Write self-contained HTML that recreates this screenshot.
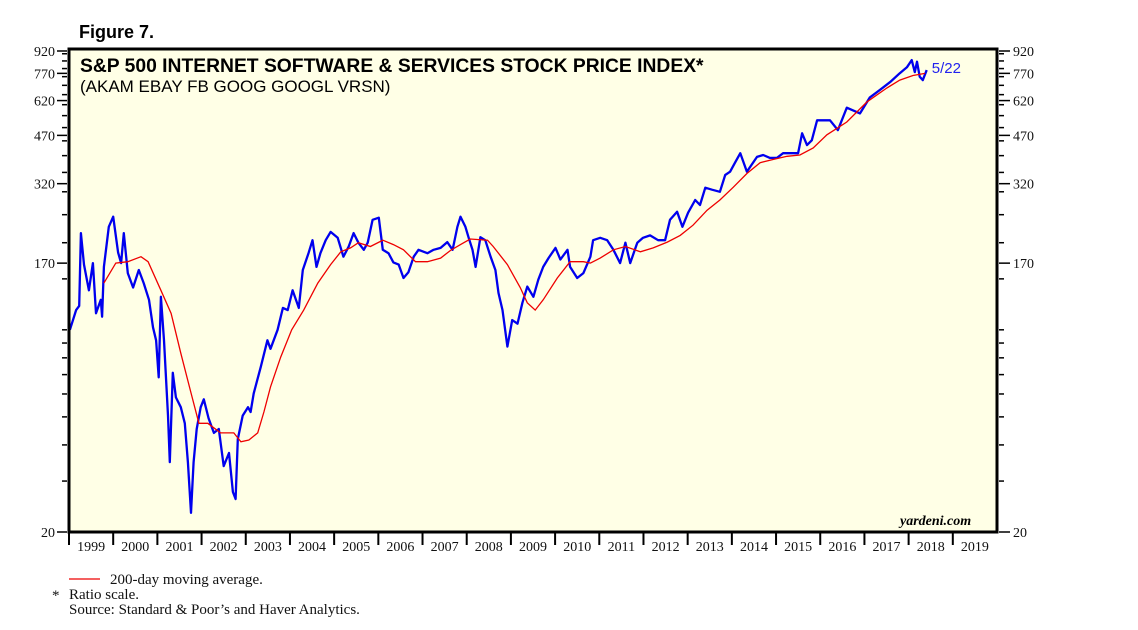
<!DOCTYPE html>
<html><head><meta charset="utf-8"><style>
body{margin:0;background:#fff}
svg{display:block}
.ax{font-family:"Liberation Serif",serif;font-size:14px;fill:#111}
.fn{font-family:"Liberation Serif",serif;font-size:15px;fill:#111}
</style></head><body>
<svg id="c" width="1138" height="630" xmlns="http://www.w3.org/2000/svg">
<text x="79" y="38" font-family="Liberation Sans,sans-serif" font-weight="bold" font-size="18">Figure 7.</text>
<rect x="69" y="49" width="928" height="483" fill="#ffffe6"/>
<g id="marks"></g>
<rect x="69" y="49" width="928" height="483" fill="none" stroke="#000" stroke-width="3"/>
<text x="80" y="72" font-family="Liberation Sans,sans-serif" font-weight="bold" font-size="19.3">S&amp;P 500 INTERNET SOFTWARE &amp; SERVICES STOCK PRICE INDEX*</text>
<text x="80" y="92" font-family="Liberation Sans,sans-serif" font-size="17">(AKAM EBAY FB GOOG GOOGL VRSN)</text>
<text x="900" y="525" font-family="Liberation Serif,serif" font-style="italic" font-weight="bold" font-size="14">yardeni.com</text>
<line x1="69" y1="579" x2="100" y2="579" stroke="#e00" stroke-width="1.2"/>
<text x="110" y="584" class="fn">200-day moving average.</text>
<text x="52" y="600" class="fn">*</text>
<text x="69" y="599" class="fn">Ratio scale.</text>
<text x="69" y="614" class="fn">Source: Standard &amp; Poor’s and Haver Analytics.</text>
</svg>
<script>
const priceT=[1999.02,1999.16,1999.23,1999.27,1999.34,1999.45,1999.54,1999.61,1999.72,1999.75,1999.79,1999.90,2000.0,2000.11,2000.18,2000.24,2000.33,2000.45,2000.58,2000.69,2000.81,2000.90,2000.97,2001.03,2001.08,2001.15,2001.24,2001.28,2001.35,2001.42,2001.53,2001.62,2001.69,2001.76,2001.82,2001.89,2001.98,2002.05,2002.16,2002.28,2002.39,2002.50,2002.62,2002.71,2002.77,2002.82,2002.93,2003.05,2003.11,2003.18,2003.34,2003.49,2003.56,2003.72,2003.84,2003.95,2004.06,2004.20,2004.29,2004.42,2004.51,2004.60,2004.69,2004.81,2004.92,2005.08,2005.21,2005.33,2005.44,2005.55,2005.67,2005.76,2005.87,2006.01,2006.10,2006.23,2006.34,2006.46,2006.57,2006.68,2006.80,2006.91,2007.11,2007.25,2007.41,2007.56,2007.68,2007.79,2007.86,2007.97,2008.04,2008.13,2008.20,2008.31,2008.42,2008.54,2008.65,2008.72,2008.81,2008.92,2009.03,2009.15,2009.26,2009.37,2009.51,2009.62,2009.73,2009.85,2010.01,2010.12,2010.28,2010.34,2010.50,2010.64,2010.80,2010.86,2011.02,2011.18,2011.32,2011.47,2011.59,2011.70,2011.86,2011.99,2012.15,2012.33,2012.49,2012.60,2012.76,2012.88,2013.01,2013.17,2013.28,2013.40,2013.55,2013.73,2013.85,2013.96,2014.07,2014.19,2014.34,2014.41,2014.57,2014.71,2014.86,2015.02,2015.16,2015.38,2015.50,2015.59,2015.70,2015.81,2015.93,2016.22,2016.40,2016.60,2016.90,2017.12,2017.35,2017.58,2017.80,2017.96,2018.07,2018.14,2018.19,2018.25,2018.32,2018.41];
const priceV=[100,117,121,216,168,137,170,114,127,111,165,227,246,185,170,216,157,140,161,145,127,102,92,68.5,130,92,50.5,34.9,71,58.4,54,47.5,34.9,23.3,34.9,45.4,54,57.5,49.4,44,45.4,33.8,37.5,27.5,26,41.9,50.5,54,52,60.3,74.5,92,86,100,119,117,137,119,161,184,204,165,184,204,218,208,179,194,216,200,189,200,240,244,189,184,171,168,151,158,179,189,184,189,192,201,189,227,246,227,209,189,165,209,204,179,161,134,117,87.5,108,105,124,141,130,149,165,177,192,175,189,165,151,157,179,204,208,204,189,170,200,170,200,208,212,204,204,240,256,227,254,281,270,310,305,300,343,352,378,408,352,365,396,402,393,393,408,408,408,478,435,452,530,530,490,586,560,635,675,718,771,808,856,778,845,750,730,790];
const maT=[1999.79,2000.06,2000.33,2000.63,2000.79,2001.08,2001.31,2001.53,2001.76,2001.94,2002.14,2002.43,2002.73,2002.89,2003.07,2003.27,2003.41,2003.56,2003.79,2004.04,2004.31,2004.63,2004.92,2005.15,2005.37,2005.55,2005.82,2006.10,2006.34,2006.57,2006.84,2007.11,2007.41,2007.63,2007.86,2008.08,2008.47,2008.60,2008.92,2009.21,2009.37,2009.55,2009.73,2010.05,2010.34,2010.64,2010.80,2011.02,2011.32,2011.59,2011.93,2012.22,2012.54,2012.83,2013.12,2013.44,2013.73,2014.03,2014.34,2014.64,2014.93,2015.25,2015.54,2015.84,2016.15,2016.60,2017.06,2017.51,2017.80,2018.10,2018.37];
const maV=[145,170,172,179,172,137,114,83,60.5,47.5,47.5,44,44,41,41.6,44,52,63.5,80.5,100,117,145,168,186,192,200,194,204,197,189,172,172,177,188,197,206,204,194,168,140,124,117,127,151,172,172,170,177,189,194,186,192,201,212,230,259,281,311,347,378,388,398,402,425,472,523,614,686,730,757,770];
const yTicks=[20,170,320,470,620,770,920];
const years=[1999,2000,2001,2002,2003,2004,2005,2006,2007,2008,2009,2010,2011,2012,2013,2014,2015,2016,2017,2018,2019];
const endLabel="5/22";

const NS="http://www.w3.org/2000/svg";
const svg=document.getElementById('c'), g=document.getElementById('marks');
const X0=69,X1=997,Y0=532,Y1=51;
const x=t=>X0+(t-1999)*(X1-X0)/21;
const y=v=>Y0-(Math.log(v/20))/Math.log(920/20)*(Y0-Y1);
function mk(tag,at,parent){const e=document.createElementNS(NS,tag);for(const k in at)e.setAttribute(k,at[k]);(parent||svg).appendChild(e);return e;}
const minors=[];for(let v=30;v<100;v+=10)minors.push(v);for(let v=100;v<=900;v+=50)minors.push(v);
minors.forEach(v=>{
 const a=mk('line',{x1:62,x2:67,y1:y(v),y2:y(v),stroke:'#000','stroke-width':1.5});
 
 
 const b=mk('line',{x1:999,x2:1004,y1:y(v),y2:y(v),stroke:'#000','stroke-width':1.5});
 
 
});
yTicks.forEach(v=>{
 const a=mk('line',{x1:57,x2:67,y1:y(v),y2:y(v),stroke:'#000','stroke-width':1.5});
 
 
 const b=mk('line',{x1:999,x2:1010,y1:y(v),y2:y(v),stroke:'#000','stroke-width':1.5});
 
 
 const l=mk('text',{x:55,y:y(v)+5,'text-anchor':'end',class:'ax'});l.textContent=v;
 
 
 const r=mk('text',{x:1013,y:y(v)+5,class:'ax'});r.textContent=v;
 
 
});
years.forEach(yr=>{
 const tk=mk('line',{x1:x(yr),x2:x(yr),y1:533,y2:545,stroke:'#000','stroke-width':2});
 
 
 const l=mk('text',{x:x(yr+0.5),y:551,'text-anchor':'middle',class:'ax'});l.textContent=yr;
 
 
});
const pp=mk('polyline',{points:priceT.map((t,i)=>x(t).toFixed(1)+','+y(priceV[i]).toFixed(1)).join(' '),fill:'none',stroke:'#0000ee','stroke-width':2.3,'stroke-linejoin':'round'},g);


const mp=mk('polyline',{points:maT.map((t,i)=>x(t).toFixed(1)+','+y(maV[i]).toFixed(1)).join(' '),fill:'none',stroke:'#ee0000','stroke-width':1.3},g);


const el=mk('text',{x:x(priceT[priceT.length-1])+5,y:y(priceV[priceV.length-1])+3,fill:'#2222ee','font-family':'Liberation Sans,sans-serif','font-size':15});
el.textContent=endLabel;


</script>
</body></html>
